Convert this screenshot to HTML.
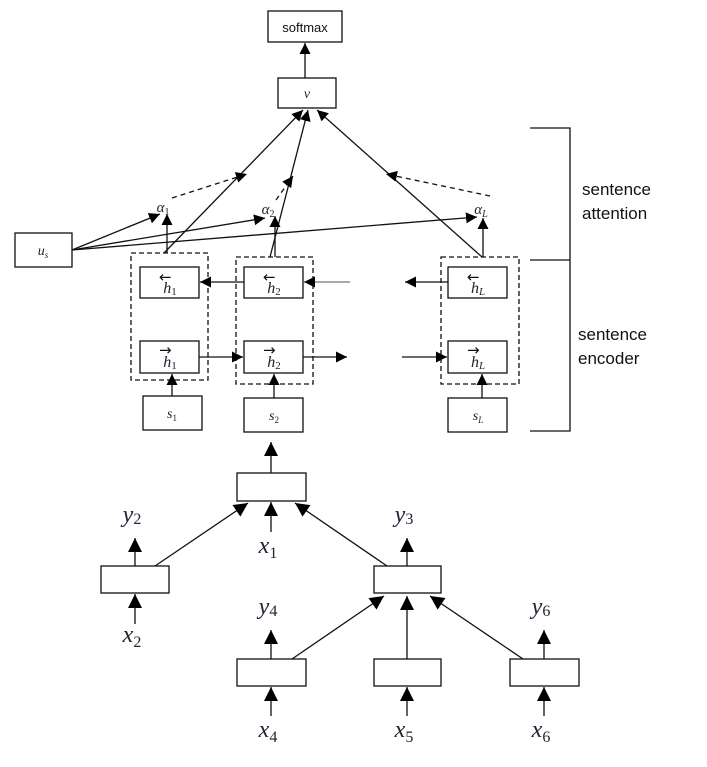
<!DOCTYPE html>
<html><head><meta charset="utf-8"><style>
html,body{margin:0;padding:0;background:#fff;}
svg{display:block;}
.m{font-family:"Liberation Serif",serif;font-style:italic;fill:#223;}
.s{font-family:"Liberation Sans",sans-serif;fill:#111;}
</style></head><body>
<svg width="707" height="767" viewBox="0 0 707 767" xmlns="http://www.w3.org/2000/svg">
<defs>
<marker id="a" viewBox="0 0 10 10" refX="10" refY="5" markerWidth="11" markerHeight="11" markerUnits="userSpaceOnUse" orient="auto"><path d="M0,0 L10,5 L0,10 z" fill="#000"/></marker>
<marker id="b" viewBox="0 0 10 10" refX="10" refY="5" markerWidth="14" markerHeight="14" markerUnits="userSpaceOnUse" orient="auto"><path d="M0,0 L10,5 L0,10 z" fill="#000"/></marker>
</defs>
<g fill="none" stroke="#111" stroke-width="1.3">
<rect x="268" y="11" width="74" height="31"/>
<rect x="278" y="78" width="58" height="30"/>
<rect x="15" y="233" width="57" height="34"/>
<rect x="140" y="267" width="59" height="31"/>
<rect x="140" y="341" width="59" height="32"/>
<rect x="244" y="267" width="59" height="31"/>
<rect x="244" y="341" width="59" height="32"/>
<rect x="448" y="267" width="59" height="31"/>
<rect x="448" y="341" width="59" height="32"/>
<rect x="143" y="396" width="59" height="34"/>
<rect x="244" y="398" width="59" height="34"/>
<rect x="448" y="398" width="59" height="34"/>
<g stroke-dasharray="5,3">
<rect x="131" y="253" width="77" height="127"/>
<rect x="236" y="257" width="77" height="127"/>
<rect x="441" y="257" width="78" height="127"/>
</g>
<path d="M530,128 H570 V431 H530 M530,260 H570"/>
<rect x="237" y="473" width="69" height="28"/>
<rect x="101" y="566" width="68" height="27"/>
<rect x="374" y="566" width="67" height="27"/>
<rect x="237" y="659" width="69" height="27"/>
<rect x="374" y="659" width="67" height="27"/>
<rect x="510" y="659" width="69" height="27"/>
</g>
<g stroke="#111" stroke-width="1.3" fill="none">
<line x1="305" y1="78" x2="305" y2="43" marker-end="url(#a)"/>
<line x1="164" y1="253" x2="303" y2="110" marker-end="url(#a)"/>
<line x1="270" y1="257" x2="308" y2="110" marker-end="url(#a)"/>
<line x1="482" y1="257" x2="317" y2="110" marker-end="url(#a)"/>
<line x1="167" y1="253" x2="167" y2="214" marker-end="url(#a)"/>
<line x1="275" y1="257" x2="275" y2="216" marker-end="url(#a)"/>
<line x1="483" y1="257" x2="483" y2="218" marker-end="url(#a)"/>
<line x1="72" y1="250" x2="160" y2="214" marker-end="url(#a)"/>
<line x1="72" y1="250" x2="265" y2="218" marker-end="url(#a)"/>
<line x1="72" y1="250" x2="477" y2="217" marker-end="url(#a)"/>
<g stroke-dasharray="5,4">
<line x1="172" y1="198" x2="247" y2="174" marker-end="url(#a)"/>
<line x1="276" y1="200" x2="293" y2="176" marker-end="url(#a)"/>
<line x1="490" y1="196" x2="386" y2="174" marker-end="url(#a)"/>
</g>
<line x1="244" y1="282" x2="200" y2="282" marker-end="url(#a)"/>
<line x1="350" y1="282" x2="304" y2="282" marker-end="url(#a)" stroke="#777"/>
<line x1="448" y1="282" x2="405" y2="282" marker-end="url(#a)"/>
<line x1="199" y1="357" x2="243" y2="357" marker-end="url(#a)"/>
<line x1="303" y1="357" x2="347" y2="357" marker-end="url(#a)"/>
<line x1="402" y1="357" x2="447" y2="357" marker-end="url(#a)"/>
<line x1="172" y1="396" x2="172" y2="374" marker-end="url(#a)"/>
<line x1="274" y1="398" x2="274" y2="374" marker-end="url(#a)"/>
<line x1="482" y1="398" x2="482" y2="374" marker-end="url(#a)"/>
<line x1="271" y1="473" x2="271" y2="442" marker-end="url(#b)"/>
<line x1="271" y1="532" x2="271" y2="502" marker-end="url(#b)"/>
<line x1="155" y1="566" x2="248" y2="503" marker-end="url(#b)"/>
<line x1="387" y1="566" x2="295" y2="503" marker-end="url(#b)"/>
<line x1="135" y1="566" x2="135" y2="538" marker-end="url(#b)"/>
<line x1="135" y1="624" x2="135" y2="594" marker-end="url(#b)"/>
<line x1="407" y1="566" x2="407" y2="538" marker-end="url(#b)"/>
<line x1="292" y1="659" x2="384" y2="596" marker-end="url(#b)"/>
<line x1="407" y1="659" x2="407" y2="596" marker-end="url(#b)"/>
<line x1="523" y1="659" x2="430" y2="596" marker-end="url(#b)"/>
<line x1="271" y1="659" x2="271" y2="630" marker-end="url(#b)"/>
<line x1="544" y1="659" x2="544" y2="630" marker-end="url(#b)"/>
<line x1="271" y1="716" x2="271" y2="687" marker-end="url(#b)"/>
<line x1="407" y1="716" x2="407" y2="687" marker-end="url(#b)"/>
<line x1="544" y1="716" x2="544" y2="687" marker-end="url(#b)"/>
</g>
<text x="305" y="32" class="s" font-size="13" text-anchor="middle">softmax</text>
<text x="307" y="98" class="m" font-size="14" text-anchor="middle">v</text>
<text x="43" y="255" class="m" font-size="14" text-anchor="middle">u<tspan font-size="9" dy="3">s</tspan></text>
<text x="163" y="212" class="m" font-size="15" text-anchor="middle">α<tspan font-size="10" dy="3" font-style="normal">1</tspan></text>
<text x="268" y="214" class="m" font-size="15" text-anchor="middle">α<tspan font-size="10" dy="3" font-style="normal">2</tspan></text>
<text x="481" y="214" class="m" font-size="15" text-anchor="middle">α<tspan font-size="10" dy="3">L</tspan></text>
<g class="m" font-size="16" text-anchor="middle">
<text x="170" y="293">h<tspan font-size="11" dy="2" font-style="normal">1</tspan></text>
<text x="274" y="293">h<tspan font-size="11" dy="2" font-style="normal">2</tspan></text>
<text x="478" y="293">h<tspan font-size="11" dy="2">L</tspan></text>
<text x="170" y="367">h<tspan font-size="11" dy="2" font-style="normal">1</tspan></text>
<text x="274" y="367">h<tspan font-size="11" dy="2" font-style="normal">2</tspan></text>
<text x="478" y="367">h<tspan font-size="11" dy="2">L</tspan></text>
<text x="172" y="418" font-size="14">s<tspan font-size="9" dy="3" font-style="normal">1</tspan></text>
<text x="274" y="420" font-size="14">s<tspan font-size="9" dy="3" font-style="normal">2</tspan></text>
<text x="478" y="420" font-size="14">s<tspan font-size="9" dy="3">L</tspan></text>
</g>
<g font-size="15" fill="#111" font-family="DejaVu Sans,sans-serif">
<text x="159" y="282">←</text><text x="263" y="282">←</text><text x="467" y="282">←</text>
<text x="159" y="355">→</text><text x="263" y="355">→</text><text x="467" y="355">→</text>
</g>
<text x="582" y="195" class="s" font-size="17">sentence</text>
<text x="582" y="219" class="s" font-size="17">attention</text>
<text x="578" y="340" class="s" font-size="17">sentence</text>
<text x="578" y="364" class="s" font-size="17">encoder</text>
<g font-family="Liberation Serif,serif" font-size="24" fill="#223" text-anchor="middle" font-style="italic">
<text x="132" y="522">y<tspan font-size="16" dy="2" font-style="normal">2</tspan></text>
<text x="404" y="522">y<tspan font-size="16" dy="2" font-style="normal">3</tspan></text>
<text x="268" y="553">x<tspan font-size="16" dy="5" font-style="normal">1</tspan></text>
<text x="132" y="642">x<tspan font-size="16" dy="5" font-style="normal">2</tspan></text>
<text x="268" y="614">y<tspan font-size="16" dy="2" font-style="normal">4</tspan></text>
<text x="541" y="614">y<tspan font-size="16" dy="2" font-style="normal">6</tspan></text>
<text x="268" y="737">x<tspan font-size="16" dy="5" font-style="normal">4</tspan></text>
<text x="404" y="737">x<tspan font-size="16" dy="5" font-style="normal">5</tspan></text>
<text x="541" y="737">x<tspan font-size="16" dy="5" font-style="normal">6</tspan></text>
</g>
</svg>
</body></html>
